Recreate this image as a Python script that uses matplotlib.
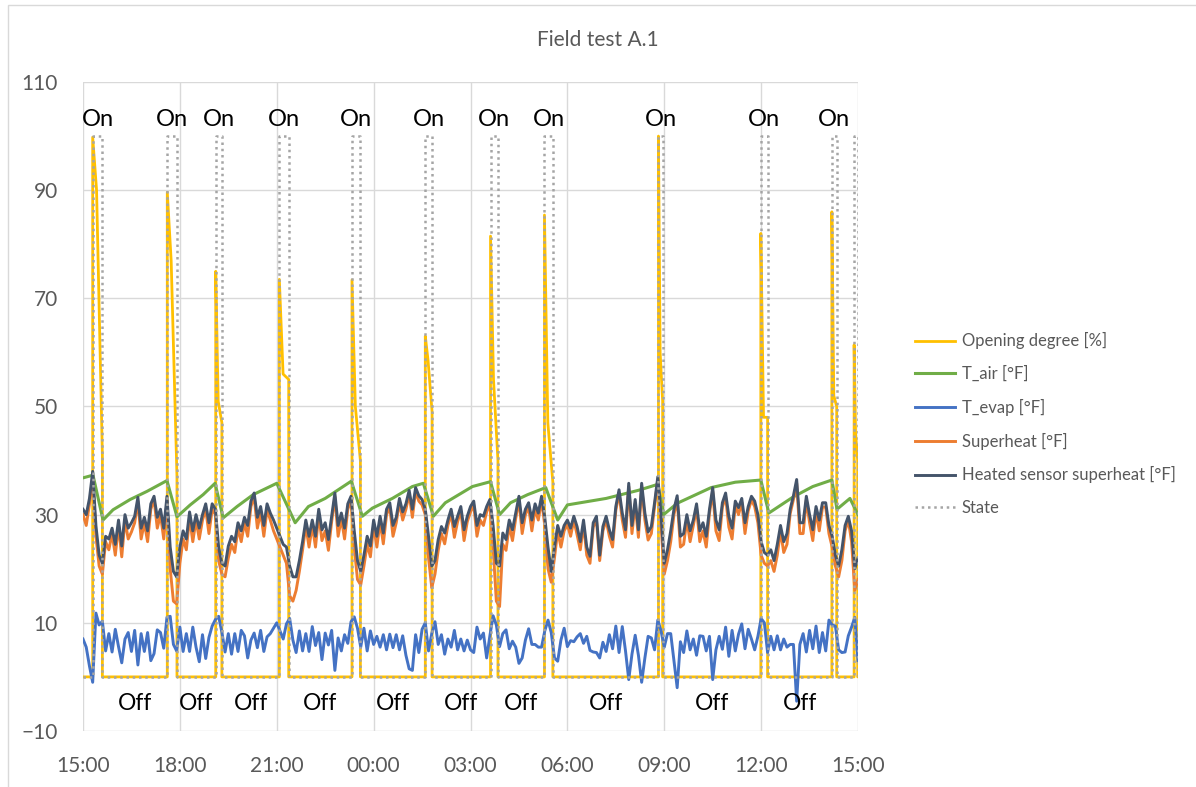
import numpy as np
import matplotlib.pyplot as plt
from matplotlib.patches import Rectangle

# =====================================================================
# Plot settings
# =====================================================================
plt.rcParams['font.family'] = ['Lato', 'DejaVu Sans']

TEXT_GREY = '#595959'
GRID_GREY = '#D9D9D9'

# =====================================================================
# Data (hours after 15:00, one sample every 6 minutes)
# =====================================================================
hours = np.linspace(0, 24, 241)

tick_hours = [0, 3, 6, 9, 12, 15, 18, 21, 24]
tick_labels = ["15:00", "18:00", "21:00", "00:00", "03:00", "06:00", "09:00", "12:00", "15:00"]

# "On" windows
on_start = [0.30, 2.61, 4.11, 6.08, 8.33, 10.60, 12.62, 14.29, 17.82, 20.99, 23.19, 23.88]
on_end = [0.60, 2.91, 4.30, 6.37, 8.59, 10.81, 12.85, 14.55, 17.95, 21.20, 23.34, 23.99]

# opening degree inside each window: peak, intermediate, value before closing
od_peak = [99.8, 89.6, 75.0, 73.5, 73.4, 63.0, 81.5, 85.4, 100.0, 82.0, 86.0, 61.4]
od_mid = [90.0, 77.0, 51.0, 56.0, 50.0, 58.6, 55.0, 47.0, 60.0, 48.0, 52.0, 45.0]
od_last = [41.0, 37.0, 47.0, 55.0, 40.0, 49.0, 40.0, 36.0, 51.0, 48.0, 50.0, 40.0]

t_air_h = [0.0, 0.31, 0.62, 0.93, 1.46, 1.98, 2.60, 2.91, 3.32, 3.72, 4.09, 4.34, 4.77, 5.27,
           6.0, 6.57, 6.98, 7.5, 8.31, 8.65, 8.96, 9.58, 10.2, 10.54, 10.85, 11.22, 12.06,
           12.62, 12.90, 13.24, 13.77, 14.33, 14.70, 15.0, 16.2, 17.2, 17.8, 17.98, 18.4,
           19.45, 20.2, 20.99, 21.24, 22.0, 22.6, 23.19, 23.35, 23.75, 24.0]
t_air = [36.8, 37.3, 29.0, 30.9, 32.8, 34.3, 36.3, 29.6, 31.8, 33.7, 35.8, 29.4, 31.5, 33.7,
         35.8, 28.5, 31.5, 33.0, 36.2, 29.7, 31.2, 33.0, 35.2, 35.8, 29.7, 32.2, 35.2,
         36.1, 30.0, 32.2, 33.7, 35.0, 29.0, 31.8, 33.0, 34.5, 35.6, 30.0, 32.1,
         35.0, 36.0, 36.4, 30.3, 33.3, 35.2, 36.4, 31.0, 33.0, 30.0]

heated = [
    31, 30, 33, 38, 28, 22.5, 21, 26, 25.5, 27.5,
    24.5, 29, 24.2, 30, 27.5, 28.5, 29.7, 33.2, 27.5, 29.5,
    27, 32, 33.4, 29.5, 31, 27.5, 33.4, 24, 19.5, 18.5,
    24, 27, 25.5, 30.5, 27, 30, 27.5, 30, 32, 28.5,
    32, 31, 24, 21, 20.5, 24.2, 26, 25, 28.5, 27,
    29.5, 28, 32.5, 34, 29.5, 31.5, 28, 32, 30.3, 29,
    27.5, 26, 24.5, 24, 20.5, 18.5, 18.5, 21.5, 25, 29,
    26, 29, 26, 31, 27.2, 28.5, 25.4, 29.7, 34, 28,
    30.3, 27.5, 32, 33.4, 27, 21.5, 19.5, 22.5, 26, 24.2,
    29, 26, 29.7, 26.6, 31, 32.2, 28, 29.5, 33, 30.5,
    32, 34.5, 31, 35, 33.5, 32.8, 31, 26, 20.5, 21.5,
    25.4, 27.8, 26.6, 29, 31, 27.8, 29.7, 31.5, 27.2, 29.7,
    31.5, 32.5, 28, 30, 29.7, 31.5, 32.8, 28, 21, 20.5,
    26.6, 25.4, 29, 27.2, 30.3, 33.4, 28.5, 31, 32.2, 29,
    32, 30.3, 33.4, 29.5, 24, 19.5, 24, 28, 26, 28,
    29, 27.5, 29.7, 27.8, 25, 29, 24, 22.3, 28.5, 29.7,
    22.5, 27.8, 29.7, 27.2, 25.4, 31.5, 34.6, 30.3, 27.2, 35.8,
    28, 32.8, 27.2, 35.8, 30.3, 26.8, 27.8, 32.2, 37, 30,
    21, 23.5, 27, 31, 33.5, 26, 26.5, 30, 27, 29,
    32, 27, 28.5, 26, 31, 35, 29, 27.2, 32.2, 34,
    29.7, 27.5, 32.5, 31.3, 33, 28.5, 31.5, 33.4, 32.5, 30,
    25, 23, 22.5, 23.5, 21.5, 24.5, 28, 25, 26.5, 31,
    33.5, 36.5, 28.5, 28.5, 33.4, 30, 27.2, 31.5, 29, 32.2,
    32.2, 28, 26, 22.5, 20.5, 23.5, 28, 29.7, 27, 20,
    22,
]

superheat = [
    30, 28, 32, 37, 26, 20.5, 19, 25, 23.5, 26.5,
    22.5, 28, 22.2, 29, 25.5, 26.8, 28.5, 32.5, 25.5, 28.5,
    25, 31, 32.8, 27.5, 30, 25.5, 32.5, 20, 14, 13.5,
    21, 25.5, 23.5, 29.5, 25, 29, 25.5, 29, 31, 26.5,
    31, 30, 21.5, 19, 18.5, 22, 24.5, 23, 27.5, 25,
    28.5, 26, 31.5, 33.3, 27.5, 30.5, 26, 31, 29, 27,
    25.5, 24, 22.5, 21, 15, 14, 16, 19.5, 23.5, 28,
    24, 28, 24, 30, 25.2, 27, 23.4, 28.7, 33.3, 26,
    29.3, 25.5, 31, 32.7, 24, 18, 17, 20.5, 24.5, 22.2,
    28, 24, 28.7, 24.6, 30, 31.4, 26, 28.5, 32.3, 29,
    31, 33.8, 29.5, 34.3, 32.5, 31.8, 30, 22, 16.5, 19,
    23.4, 26.5, 24.6, 28, 30.2, 25.8, 28.7, 30.7, 25.2, 28.7,
    30.5, 31.8, 26, 29, 28, 30.5, 32, 24, 14, 13,
    24.5, 23.4, 28, 25.2, 29.3, 32.7, 26.5, 30, 31.4, 27,
    31, 29, 32.7, 28, 20, 17.5, 22, 27, 24, 27,
    28.2, 26, 29, 26.3, 23.5, 28.2, 22.5, 21, 27.7, 29,
    21.5, 27, 29, 26, 24, 30.8, 34, 29, 25.8, 35.2,
    26.5, 32, 25.8, 35.2, 29, 25.3, 26.5, 31.5, 36.5, 28,
    19, 21.5, 25, 30, 32.8, 24, 24.5, 29, 25, 28,
    31.2, 25, 27, 24, 30.2, 34.3, 27, 25.2, 31.4, 33.3,
    27.7, 25.5, 31.7, 30, 32.3, 26.5, 30.7, 32.7, 31.5, 28.5,
    22.5, 21, 20.5, 21.5, 19.5, 22.5, 27, 23, 24.5, 30.2,
    32.8, 35.8, 26.5, 26.5, 32.7, 28.5, 25.2, 30.7, 27, 31.4,
    31.4, 26.5, 24, 20.5, 18.5, 21.5, 27, 29, 25, 16,
    18,
]

t_evap = [
    7, 5.5, 2, -1, 11.8, 9.6, 10.3, 4.8, 8, 4.6,
    8.8, 5.6, 2.6, 7, 8.2, 4.7, 8.6, 2.2, 8, 4.7,
    8.2, 3, 4.3, 8.7, 8.2, 5.3, 11, 11.2, 6, 4.8,
    9.2, 4.7, 8, 4.7, 9.2, 5.5, 2.8, 7.8, 3.4, 7.3,
    9.4, 10.6, 11.2, 8.3, 4.6, 8, 4.2, 8, 4.7, 8.6,
    7.6, 3.5, 6.8, 8.1, 5.4, 8.6, 4.7, 7.4, 8, 9,
    10, 8.5, 7, 9.8, 10.8, 6.8, 4.5, 8.5, 4.8, 8,
    4.7, 9.3, 5.8, 8.2, 3.2, 8.1, 5.9, 8.6, 1.2, 7.2,
    4.8, 7.8, 6.2, 10.2, 11.1, 9, 5.5, 9, 4.8, 8.5,
    6, 7.5, 5.5, 7.8, 5, 7.9, 5.4, 7.8, 5, 7.6,
    4, 1.5, 1.2, 7.8, 4.5, 8.8, 10, 4.8, 8, 10.2,
    6, 7.8, 4.2, 7, 5.5, 8.6, 5, 7, 4.8, 6.8,
    5, 4.5, 9.2, 7, 8.1, 3.5, 7.6, 11.3, 9.6, 5.6,
    8, 8.7, 5.2, 6.6, 5.5, 2.5, 3.5, 6.8, 8.9, 6,
    6, 5.5, 5.5, 8.5, 10.5, 8.2, 3.5, 2.9, 6.8, 9,
    5.6, 6.7, 6.5, 7.4, 8, 6.2, 7.5, 4.9, 4.6, 4.5,
    3.5, 6.4, 4.7, 7.8, 5.2, 9.4, 4.5, 9.3, 4.8, -0.5,
    4.2, 7.7, 4, -1, 3.5, 7.5, 7.2, 5, 10.5, 8.5,
    5.5, 8, 8, 3, -2, 6.5, 4.5, 8.5, 5, 7,
    4, 7.6, 7.5, 4.8, 7.5, -0.5, 5, 7.5, 5.1, 9.2,
    3.8, 8.6, 4.8, 7.9, 9.8, 5.2, 8.8, 7, 5, 7.5,
    10.8, 10, 4.5, 7.5, 5, 7.6, 5, 7, 5.5, 6,
    6, -4.5, 6, 8, 4.6, 8.6, 5.2, 9.4, 4.5, 8.2,
    4.8, 10.5, 9.6, 9.4, 5, 4.5, 4.6, 7.6, 9.2, 11,
    3,
]

# =====================================================================
# Step series built from the On windows
# =====================================================================
od_t, od_v = [0.0], [0.0]
st_t, st_v = [0.0], [0.0]
for s, e, pk, md, lt in zip(on_start, on_end, od_peak, od_mid, od_last):
    od_t += [s, s, s + 0.4 * (e - s), e, e]
    od_v += [0, pk, md, lt, 0]
    st_t += [s, s, e, e]
    st_v += [0, 100, 100, 0]
od_t.append(24.0)
od_v.append(0.0)
st_t.append(24.0)
st_v.append(0.0)

# =====================================================================
# Figure
# =====================================================================
fig = plt.figure(figsize=(11.96, 7.87), dpi=100)
fig.patches.append(Rectangle((0.0067, -0.01), 1.1, 1.0036, transform=fig.transFigure,
                             fill=False, edgecolor=GRID_GREY, lw=1))
ax = fig.add_axes([0.0694, 0.0712, 0.648, 0.8246])

ax.plot(od_t, od_v, color='#FFC000', lw=2.0, label='Opening degree [%]')
ax.plot(t_air_h, t_air, color='#70AD47', lw=2.2, label='T_air [°F]')
ax.plot(hours, t_evap, color='#4472C4', lw=2.1, label='T_evap [°F]')
ax.plot(hours, superheat, color='#ED7D31', lw=2.1, label='Superheat [°F]')
ax.plot(hours, heated, color='#44546A', lw=2.1, label='Heated sensor superheat [°F]')
ax.plot(st_t, st_v, color='#A5A5A5', lw=1.8, ls=(0, (1, 1.5)), label='State')

# On / Off annotations
for s, e in zip(on_start[:-1], on_end[:-1]):
    ax.text((s + e) / 2, 103.0, 'On', ha='center', va='center', fontsize=17, color='black')
for e, s in zip(on_end[:-2], on_start[1:-1]):
    ax.text((e + s) / 2, -5, 'Off', ha='center', va='center', fontsize=16.5, color='black')

ax.set_xlim(0, 24)
ax.set_ylim(-10, 110)
ax.set_xticks(tick_hours, tick_labels)
ax.set_yticks(range(-10, 111, 20))
ax.tick_params(length=0, labelsize=15, labelcolor=TEXT_GREY, pad=18)
ax.grid(True, color=GRID_GREY, lw=1)
ax.set_axisbelow(True)
for sp in ax.spines.values():
    sp.set_visible(False)

fig.text(0.5, 0.949, 'Field test A.1', ha='center', va='center', fontsize=15, color=TEXT_GREY)

handles, labels = ax.get_legend_handles_labels()
fig.legend(handles, labels, loc='center left', bbox_to_anchor=(0.765, 0.461),
           frameon=False, fontsize=12, labelcolor=TEXT_GREY, handlelength=2.4,
           handletextpad=0.4, labelspacing=1.0, borderpad=0, borderaxespad=0)

fig.savefig('out.png', dpi=100)
